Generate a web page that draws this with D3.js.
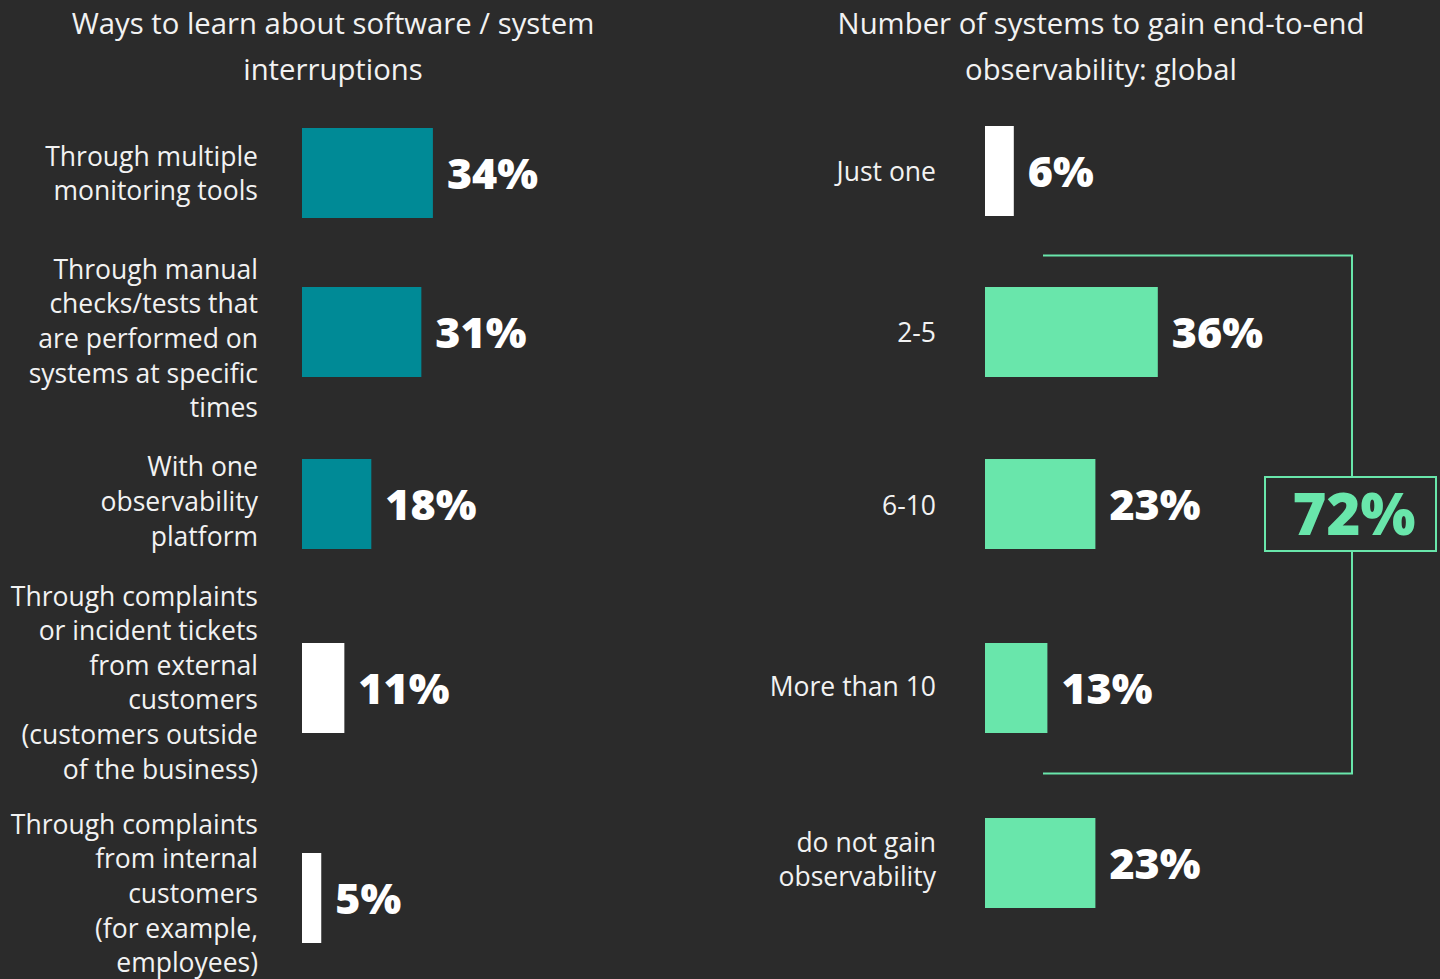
<!DOCTYPE html>
<html>
<head>
<meta charset="utf-8">
<script src="https://cdn.jsdelivr.net/npm/d3@7"></script>
<style>
  html, body { margin: 0; padding: 0; background: #2b2b2b; }
  svg { display: block; }
</style>
</head>
<body>
<svg id="chart" width="1440" height="979"></svg>
<script>
// ---- data ----
const leftTitle = ["Ways to learn about software / system", "interruptions"];
const leftCategories = [
  ["Through multiple", "monitoring tools"],
  ["Through manual", "checks/tests that", "are performed on", "systems at specific", "times"],
  ["With one", "observability", "platform"],
  ["Through complaints", "or incident tickets", "from external", "customers", "(customers outside", "of the business)"],
  ["Through complaints", "from internal", "customers", "(for example,", "employees)"]
];
const leftValues = [34, 31, 18, 11, 5];
const leftHighlight = [true, true, true, false, false];

const rightTitle = ["Number of systems to gain end-to-end", "observability: global"];
const rightCategories = [["Just one"], ["2-5"], ["6-10"], ["More than 10"], ["do not gain", "observability"]];
const rightValues = [6, 36, 23, 13, 23];
const rightHighlight = [false, true, true, true, true];
const bracketGroup = [1, 2, 3]; // indices summed into the bracket total

// ---- style / layout ----
const BG = "#2b2b2b", TEAL = "#008a96", MINT = "#69e6ab", WHITE = "#ffffff", TEXT = "#f2f2f2";
const FONT = "'Open Sans', 'Noto Sans', sans-serif";
const svg = d3.select("#chart");
svg.append("rect").attr("width", 1440).attr("height", 979).attr("fill", BG);

const LINE_H = 34.6, BAR_H = 90;

function panel(opts) {
  const g = svg.append("g");
  const idx = opts.values.map((_, i) => i);
  const y = d3.scaleOrdinal().domain(idx).range(opts.rowCenters);
  const x = d3.scaleLinear().domain([0, 100]).range([opts.x0, opts.x0 + opts.pxPer100]);

  // title
  g.append("text")
    .attr("x", opts.titleX).attr("text-anchor", "middle")
    .attr("font-family", FONT).attr("font-size", 29.3).attr("fill", TEXT)
    .selectAll("tspan").data(opts.title).join("tspan")
    .attr("x", opts.titleX).attr("y", (d, i) => 34 + i * 46).text(d => d);

  // category labels
  g.selectAll("text.cat").data(opts.categories).join("text")
    .attr("class", "cat")
    .attr("text-anchor", "end")
    .attr("font-family", FONT).attr("font-size", 26.5).attr("fill", TEXT)
    .each(function (lines, i) {
      const n = lines.length;
      d3.select(this).selectAll("tspan").data(lines).join("tspan")
        .attr("x", opts.labelX)
        .attr("y", (d, j) => y(i) + opts.labelShift[i] + (j - (n - 1) / 2) * LINE_H + 10)
        .text(d => d);
    });

  // bars
  g.selectAll("rect.bar").data(opts.values).join("rect")
    .attr("class", "bar")
    .attr("x", x(0))
    .attr("y", (d, i) => y(i) - BAR_H / 2)
    .attr("width", d => x(d) - x(0))
    .attr("height", BAR_H)
    .attr("fill", (d, i) => opts.highlight[i] ? opts.color : WHITE);

  // value labels
  g.selectAll("text.val").data(opts.values).join("text")
    .attr("class", "val")
    .attr("x", d => x(d) + 14)
    .attr("y", (d, i) => y(i) + 16)
    .attr("font-family", FONT).attr("font-weight", 800).attr("font-size", 43)
    .attr("fill", WHITE)
    .text(d => d + "%");
  return { x, y };
}

panel({
  title: leftTitle, titleX: 333, categories: leftCategories, values: leftValues,
  highlight: leftHighlight, color: TEAL, labelX: 258, x0: 302, pxPer100: 385,
  rowCenters: [173, 332, 504, 688, 898], labelShift: [0, 6, -3, -6, -5]
});

const right = panel({
  title: rightTitle, titleX: 1101, categories: rightCategories, values: rightValues,
  highlight: rightHighlight, color: MINT, labelX: 936, x0: 985, pxPer100: 480,
  rowCenters: [171, 332, 504, 688, 863], labelShift: [0, 0, 1, -2, -4]
});

// bracket + total
const first = bracketGroup[0], last = bracketGroup[bracketGroup.length - 1];
const topY = (right.y(first - 1) + right.y(first)) / 2 + 4;
const botY = (right.y(last) + right.y(last + 1)) / 2 - 2;
const bx0 = 1043, bx1 = 1352;
svg.append("path")
  .attr("d", `M${bx0},${topY}H${bx1}V${botY}H${bx0}`)
  .attr("fill", "none").attr("stroke", MINT).attr("stroke-width", 2);

const total = d3.sum(bracketGroup, i => rightValues[i]);
const cy = right.y(2) + 10;
svg.append("rect")
  .attr("x", 1265).attr("y", cy - 37).attr("width", 171).attr("height", 74)
  .attr("fill", BG).attr("stroke", MINT).attr("stroke-width", 2);
svg.append("text")
  .attr("x", 1354).attr("y", cy + 21).attr("text-anchor", "middle")
  .attr("font-family", FONT).attr("font-weight", 800).attr("font-size", 58)
  .attr("fill", MINT).text(total + "%");
</script>
</body>
</html>
